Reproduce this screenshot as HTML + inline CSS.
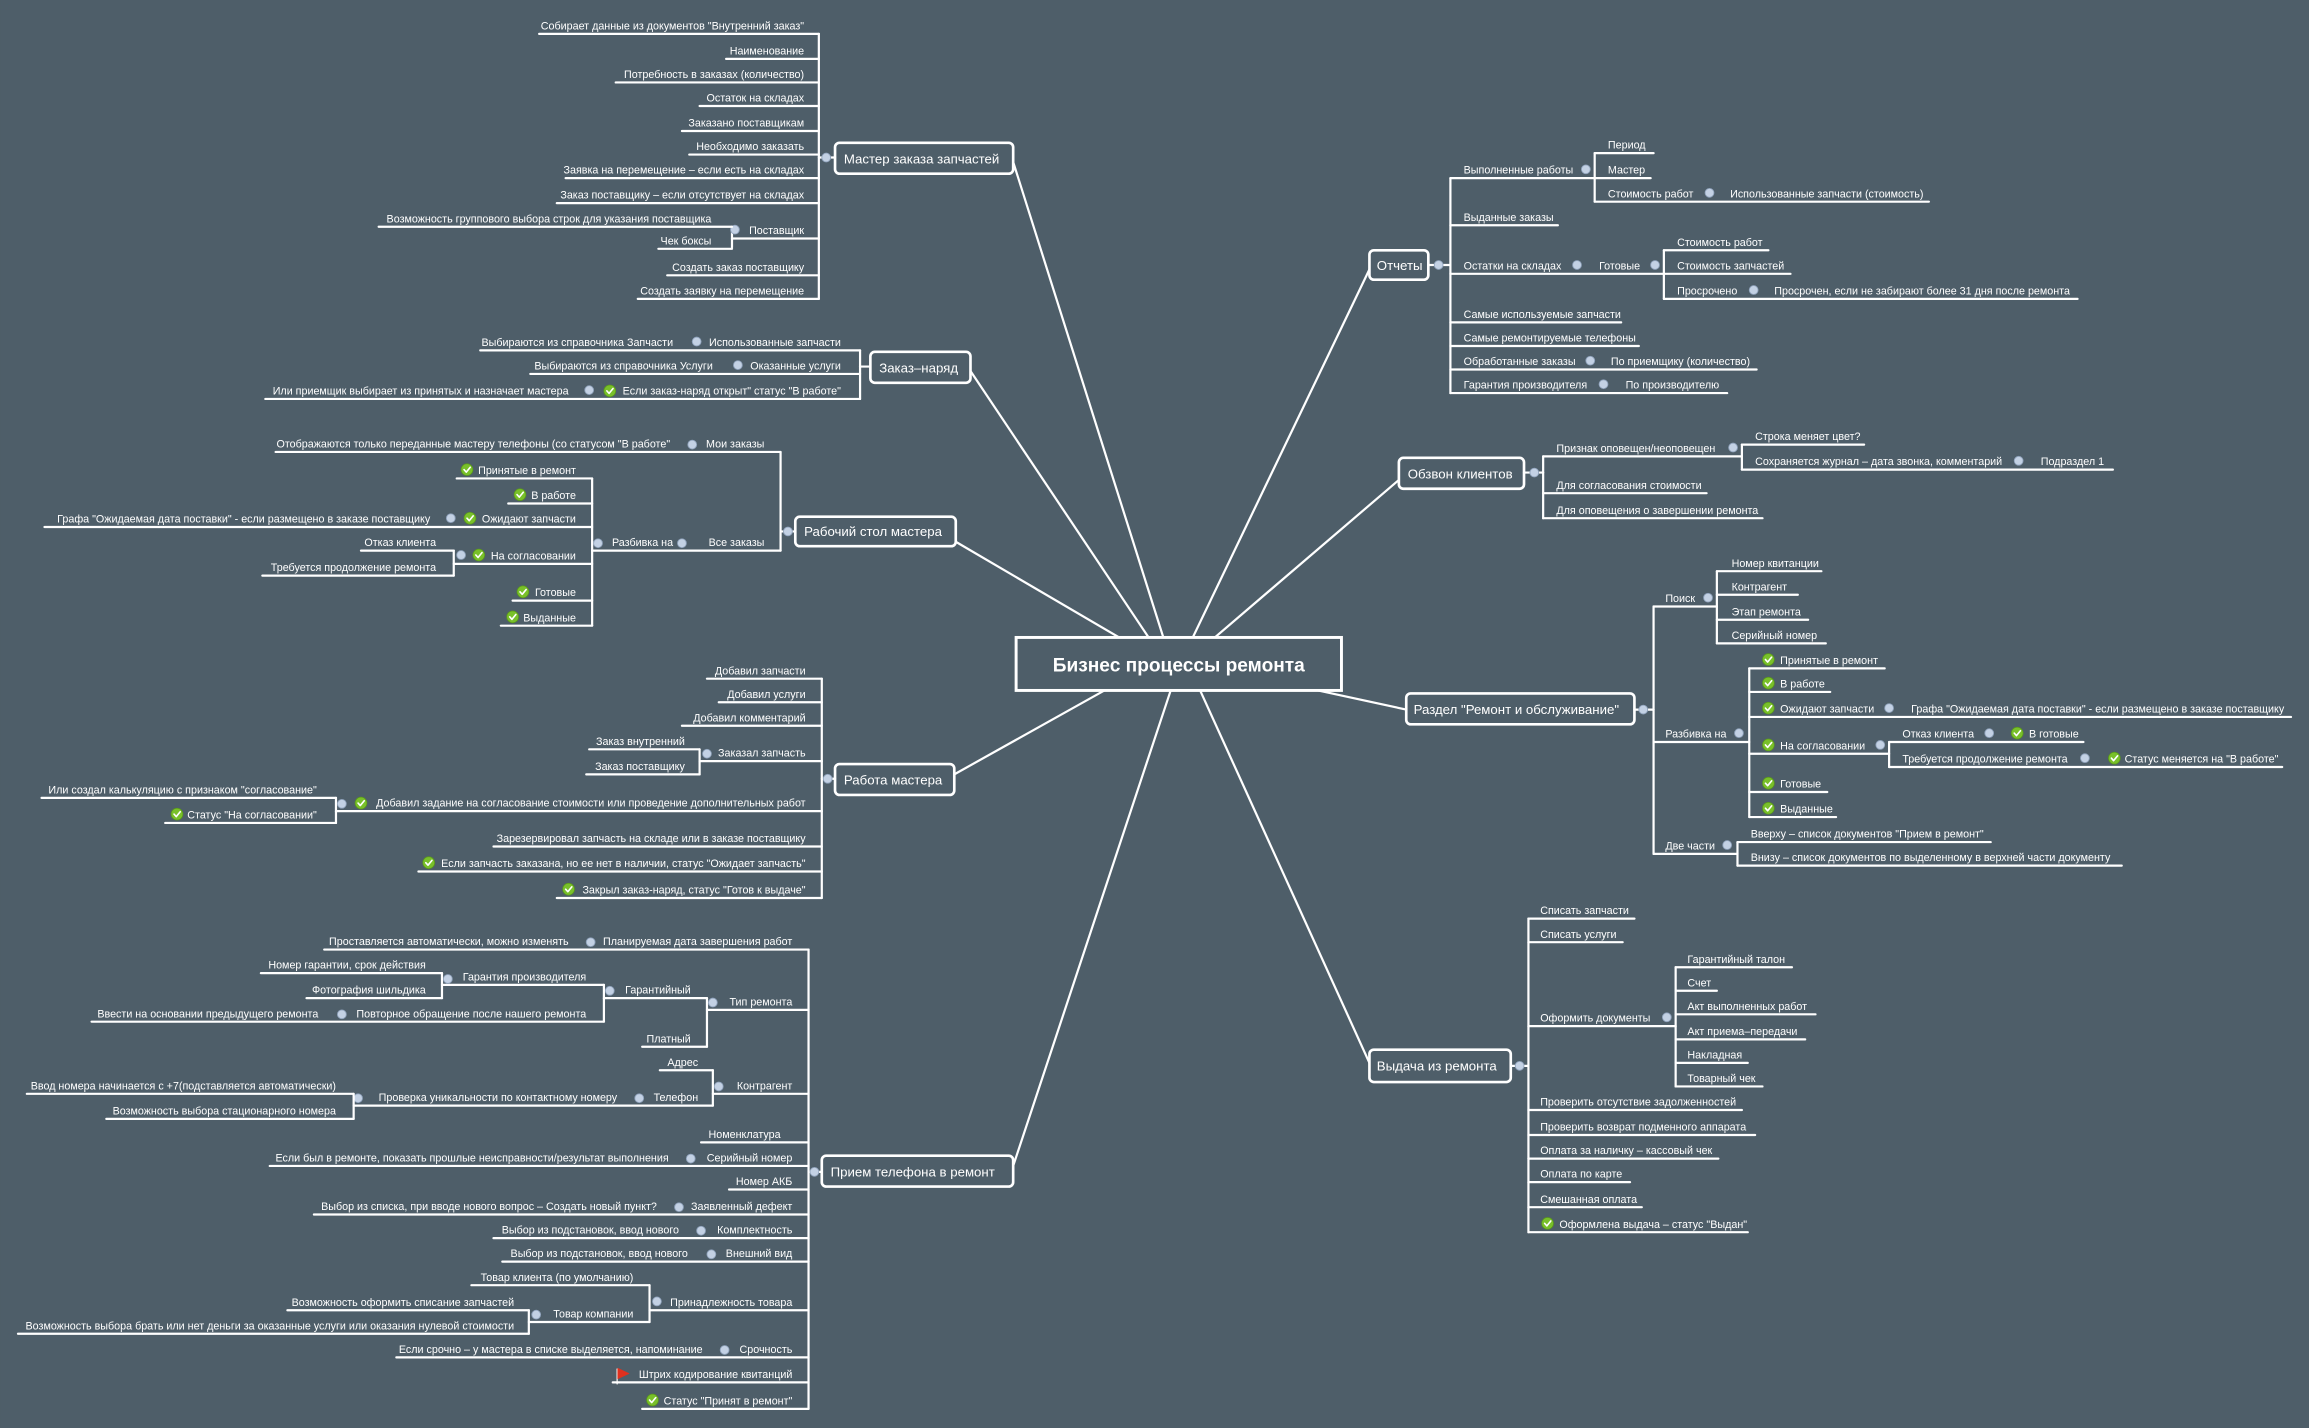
<!DOCTYPE html>
<html><head><meta charset="utf-8"><style>
html,body{margin:0;padding:0;background:#4e5e69;}
svg{display:block}
path{stroke:#fff;stroke-width:1.5;fill:none;stroke-linecap:round;stroke-linejoin:round}
text{fill:#fff;font-family:"Liberation Sans","DejaVu Sans",sans-serif;font-size:7.3px}
text.e{text-anchor:end}
text.n{font-size:9px}
circle.c{fill:#c3d1e4;stroke:#8fa2bb;stroke-width:.6}
rect.nd{fill:#4e5e69;stroke:#fff;stroke-width:1.8}
</style></head><body>
<svg width="2309" height="1428" viewBox="0 0 1568 970" xmlns="http://www.w3.org/2000/svg">
<defs>
<g id="ck"><circle r="4" fill="#79c02a" stroke="#5a9a18" stroke-width=".5"/><path d="M-2 0 L-0.5 1.7 L2.2 -1.6" style="stroke:#fff;stroke-width:1.1"/></g>
</defs>
<rect width="1568" height="970" fill="#4e5e69"/>

<path d="M688 110 L790 433"/>
<path d="M659 252 L780 433"/>
<path d="M649 368 L760 433"/>
<path d="M648 526 L750 469"/>
<path d="M688 792 L795 469"/>
<path d="M930 183 L810 433"/>
<path d="M950 326 L825 433"/>
<path d="M955 482 L895 469"/>
<path d="M930 722 L815 469"/>

<rect x="690" y="433" width="221" height="36" fill="#4e5e69" stroke="#fff" stroke-width="2"/>
<text x="800.5" y="456" style="font-size:13px;font-weight:bold;text-anchor:middle">Бизнес процессы ремонта</text>

<rect class="nd" x="567" y="97" width="121" height="21" rx="3"/>
<text class="n" x="573" y="111">Мастер заказа запчастей</text>
<path d="M556 23 V203"/>
<path d="M556 107 H567"/><circle class="c" cx="561" cy="107" r="3"/>
<text class="e" x="546" y="20">Собирает данные из документов "Внутренний заказ"</text><path d="M366 23 H556"/>
<text class="e" x="546" y="37">Наименование</text><path d="M493 40 H556"/>
<text class="e" x="546" y="53">Потребность в заказах (количество)</text><path d="M418 56 H556"/>
<text class="e" x="546" y="69">Остаток на складах</text><path d="M475 72 H556"/>
<text class="e" x="546" y="86">Заказано поставщикам</text><path d="M463 89 H556"/>
<text class="e" x="546" y="102">Необходимо заказать</text><path d="M468 105 H556"/>
<text class="e" x="546" y="118">Заявка на перемещение – если есть на складах</text><path d="M384 121 H556"/>
<text class="e" x="546" y="135">Заказ поставщику – если отсутствует на складах</text><path d="M378 138 H556"/>
<text class="e" x="546" y="159">Поставщик</text><path d="M497 162 H556"/>
<path d="M497 154 V168"/><circle class="c" cx="499" cy="156" r="3"/>
<text class="e" x="483" y="151">Возможность группового выбора строк для указания поставщика</text><path d="M257 154 H497"/>
<text class="e" x="483" y="166">Чек боксы</text><path d="M447 169 H497"/>
<text class="e" x="546" y="184">Создать заказ поставщику</text><path d="M453 187 H556"/>
<text class="e" x="546" y="200">Создать заявку на перемещение</text><path d="M433 203 H556"/>

<rect class="nd" x="591" y="239" width="68" height="21" rx="3"/>
<text class="n" x="597" y="253">Заказ–наряд</text>
<path d="M584 238 V271"/><path d="M584 249 H591"/>
<text class="e" x="571" y="235">Использованные запчасти</text>
<text class="e" x="457" y="235">Выбираются из справочника Запчасти</text><path d="M326 238 H584"/><circle class="c" cx="473" cy="232" r="3"/>
<text class="e" x="571" y="251">Оказанные услуги</text>
<text class="e" x="484" y="251">Выбираются из справочника Услуги</text><path d="M360 254 H584"/><circle class="c" cx="501" cy="248" r="3"/>
<text class="e" x="571" y="268">Если заказ-наряд открыт" статус "В работе"</text><use href="#ck" x="414" y="265.5"/>
<text class="e" x="386" y="268">Или приемщик выбирает из принятых и назначает мастера</text><path d="M180 271 H584"/><circle class="c" cx="400" cy="265" r="3"/>

<rect class="nd" x="540" y="351" width="109" height="20" rx="3"/>
<text class="n" x="546" y="364">Рабочий стол мастера</text>
<path d="M530 307 V374"/><path d="M530 361 H540"/><circle class="c" cx="535" cy="361" r="3"/>
<text class="e" x="519" y="304">Мои заказы</text>
<text class="e" x="455" y="304">Отображаются только переданные мастеру телефоны (со статусом "В работе"</text><path d="M187 307 H530"/><circle class="c" cx="470" cy="302" r="3"/>
<text class="e" x="519" y="371">Все заказы</text><circle class="c" cx="463" cy="369" r="3"/>
<text class="e" x="457" y="371">Разбивка на</text><path d="M402 374 H530"/><circle class="c" cx="406" cy="369" r="3"/>
<path d="M402 325 V425"/>
<text class="e" x="391" y="322">Принятые в ремонт</text><use href="#ck" x="317" y="319"/><path d="M310 325 H402"/>
<text class="e" x="391" y="339">В работе</text><use href="#ck" x="353" y="336"/><path d="M345 342 H402"/>
<text class="e" x="391" y="355">Ожидают запчасти</text><use href="#ck" x="319" y="352"/>
<text class="e" x="292" y="355">Графа "Ожидаемая дата поставки" - если размещено в заказе поставщику</text><path d="M30 358 H402"/><circle class="c" cx="306" cy="352" r="3"/>
<text class="e" x="391" y="380">На согласовании</text><use href="#ck" x="325" y="377"/><path d="M308 383 H402"/><circle class="c" cx="313" cy="377" r="3"/>
<path d="M308 374 V391"/>
<text class="e" x="296" y="371">Отказ клиента</text><path d="M245 374 H308"/>
<text class="e" x="296" y="388">Требуется продолжение ремонта</text><path d="M178 391 H308"/>
<text class="e" x="391" y="405">Готовые</text><use href="#ck" x="355" y="402"/><path d="M348 408 H402"/>
<text class="e" x="391" y="422">Выданные</text><use href="#ck" x="348" y="419"/><path d="M340 425 H402"/>

<rect class="nd" x="567" y="519" width="81" height="21" rx="3"/>
<text class="n" x="573" y="533">Работа мастера</text>
<path d="M558 461 V610"/><path d="M558 529 H567"/><circle class="c" cx="562" cy="529" r="3"/>
<text class="e" x="547" y="458">Добавил запчасти</text><path d="M480 461 H558"/>
<text class="e" x="547" y="474">Добавил услуги</text><path d="M488 477 H558"/>
<text class="e" x="547" y="490">Добавил комментарий</text><path d="M463 493 H558"/>
<text class="e" x="547" y="514">Заказал запчасть</text><path d="M475 517 H558"/><circle class="c" cx="480" cy="512" r="3"/>
<path d="M475 509 V526"/>
<text class="e" x="465" y="506">Заказ внутренний</text><path d="M400 509 H475"/>
<text class="e" x="465" y="523">Заказ поставщику</text><path d="M398 526 H475"/>
<text class="e" x="547" y="548">Добавил задание на согласование стоимости или проведение дополнительных работ</text><use href="#ck" x="245" y="545.5"/>
<path d="M228 551 H558"/><circle class="c" cx="232" cy="546" r="3"/>
<path d="M228 542 V559"/>
<text class="e" x="215" y="539">Или создал калькуляцию с признаком "согласование"</text><path d="M28 542 H228"/>
<text class="e" x="215" y="556">Статус "На согласовании"</text><use href="#ck" x="120" y="553"/><path d="M112 559 H228"/>
<text class="e" x="547" y="572">Зарезервировал запчасть на складе или в заказе поставщику</text><path d="M335 575 H558"/>
<text class="e" x="547" y="589">Если запчасть заказана, но ее нет в наличии, статус "Ожидает запчасть"</text><use href="#ck" x="291" y="586"/><path d="M284 592 H558"/>
<text class="e" x="547" y="607">Закрыл заказ-наряд, статус "Готов к выдаче"</text><use href="#ck" x="386" y="604"/><path d="M378 610 H558"/>

<rect class="nd" x="558" y="785" width="130" height="21" rx="3"/>
<text class="n" x="564" y="799">Прием телефона в ремонт</text>
<path d="M549 645 V957"/><path d="M549 796 H558"/><circle class="c" cx="553" cy="796" r="3"/>
<text class="e" x="538" y="642">Планируемая дата завершения работ</text>
<text class="e" x="386" y="642">Проставляется автоматически, можно изменять</text><path d="M220 645 H549"/><circle class="c" cx="401" cy="640" r="3"/>
<text class="e" x="538" y="683">Тип ремонта</text><path d="M480 686 H549"/><circle class="c" cx="484" cy="681" r="3"/>
<path d="M480 678 V711"/>
<text class="e" x="469" y="675">Гарантийный</text><path d="M410 678 H480"/><circle class="c" cx="414" cy="673" r="3"/>
<path d="M410 669 V694"/>
<text class="e" x="398" y="666">Гарантия производителя</text><path d="M300 669 H410"/><circle class="c" cx="304" cy="665" r="3"/>
<path d="M300 661 V678"/>
<text class="e" x="289" y="658">Номер гарантии, срок действия</text><path d="M177 661 H300"/>
<text class="e" x="289" y="675">Фотография шильдика</text><path d="M208 678 H300"/>
<text class="e" x="398" y="691">Повторное обращение после нашего ремонта</text>
<text class="e" x="216" y="691">Ввести на основании предыдущего ремонта</text><path d="M62 694 H410"/><circle class="c" cx="232" cy="689" r="3"/>
<text class="e" x="469" y="708">Платный</text><path d="M436 711 H480"/>
<text class="e" x="538" y="740">Контрагент</text><path d="M484 743 H549"/><circle class="c" cx="488" cy="738" r="3"/>
<path d="M484 727 V751"/>
<text class="e" x="474" y="724">Адрес</text><path d="M448 727 H484"/>
<text class="e" x="474" y="748">Телефон</text><circle class="c" cx="434" cy="746" r="3"/>
<text class="e" x="419" y="748">Проверка уникальности по контактному номеру</text><path d="M240 751 H484"/><circle class="c" cx="243" cy="746" r="3"/>
<path d="M240 743 V760"/>
<text class="e" x="228" y="740">Ввод номера начинается с +7(подставляется автоматически)</text><path d="M18 743 H240"/>
<text class="e" x="228" y="757">Возможность выбора стационарного номера</text><path d="M72 760 H240"/>
<text class="e" x="530" y="773">Номенклатура</text><path d="M476 776 H549"/>
<text class="e" x="538" y="789">Серийный номер</text>
<text class="e" x="454" y="789">Если был в ремонте, показать прошлые неисправности/результат выполнения</text><path d="M183 792 H549"/><circle class="c" cx="469" cy="787" r="3"/>
<text class="e" x="538" y="805">Номер АКБ</text><path d="M495 808 H549"/>
<text class="e" x="538" y="822">Заявленный дефект</text>
<text class="e" x="446" y="822">Выбор из списка, при вводе нового вопрос – Создать новый пункт?</text><path d="M213 825 H549"/><circle class="c" cx="461" cy="820" r="3"/>
<text class="e" x="538" y="838">Комплектность</text>
<text class="e" x="461" y="838">Выбор из подстановок, ввод нового</text><path d="M335 841 H549"/><circle class="c" cx="476" cy="836" r="3"/>
<text class="e" x="538" y="854">Внешний вид</text>
<text class="e" x="467" y="854">Выбор из подстановок, ввод нового</text><path d="M341 857 H549"/><circle class="c" cx="483" cy="852" r="3"/>
<text class="e" x="538" y="887">Принадлежность товара</text><path d="M441 890 H549"/><circle class="c" cx="446" cy="884" r="3"/>
<path d="M441 873 V898"/>
<text class="e" x="430" y="870">Товар клиента (по умолчанию)</text><path d="M320 873 H441"/>
<text class="e" x="430" y="895">Товар компании</text><path d="M359 898 H441"/><circle class="c" cx="364" cy="893" r="3"/>
<path d="M359 890 V906"/>
<text class="e" x="349" y="887">Возможность оформить списание запчастей</text><path d="M195 890 H359"/>
<text class="e" x="349" y="903">Возможность выбора брать или нет деньги за оказанные услуги или оказания нулевой стоимости</text><path d="M12 906 H359"/>
<text class="e" x="538" y="919">Срочность</text>
<text class="e" x="477" y="919">Если срочно – у мастера в списке выделяется, напоминание</text><path d="M269 922 H549"/><circle class="c" cx="492" cy="917" r="3"/>
<text class="e" x="538" y="936">Штрих кодирование квитанций</text>
<path d="M419 930 V940" style="stroke:#ddd;stroke-width:1"/><path d="M419.5 929.5 L427 933 L419.5 936.5 Z" style="fill:#e0301e;stroke:#e0301e;stroke-width:.5"/>
<path d="M416 939 H549"/>
<text class="e" x="538" y="954">Статус "Принят в ремонт"</text><use href="#ck" x="443" y="951"/><path d="M436 957 H549"/>

<rect class="nd" x="930" y="170" width="40" height="20" rx="3"/>
<text class="n" x="935" y="183.5">Отчеты</text>
<path d="M985 121 V267"/><path d="M970 180 H985"/><circle class="c" cx="977" cy="180" r="3"/>
<text x="994" y="118">Выполненные работы</text><path d="M985 121 H1083"/><circle class="c" cx="1077" cy="115" r="3"/>
<path d="M1083 104 V137"/>
<text x="1092" y="101">Период</text><path d="M1083 104 H1123"/>
<text x="1092" y="118">Мастер</text><path d="M1083 121 H1121"/>
<text x="1092" y="134">Стоимость работ</text><circle class="c" cx="1161" cy="131" r="3"/>
<text x="1175" y="134">Использованные запчасти (стоимость)</text><path d="M1083 137 H1310"/>
<text x="994" y="150">Выданные заказы</text><path d="M985 153 H1058"/>
<text x="994" y="183">Остатки на складах</text><circle class="c" cx="1071" cy="180" r="3"/>
<text x="1086" y="183">Готовые</text><path d="M985 186 H1130"/><circle class="c" cx="1124" cy="180" r="3"/>
<path d="M1130 170 V203"/>
<text x="1139" y="167">Стоимость работ</text><path d="M1130 170 H1201"/>
<text x="1139" y="183">Стоимость запчастей</text><path d="M1130 186 H1216"/>
<text x="1139" y="200">Просрочено</text><circle class="c" cx="1191" cy="197" r="3"/>
<text x="1205" y="200">Просрочен, если не забирают более 31 дня после ремонта</text><path d="M1130 203 H1411"/>
<text x="994" y="216">Самые используемые запчасти</text><path d="M985 219 H1101"/>
<text x="994" y="232">Самые ремонтируемые телефоны</text><path d="M985 235 H1113"/>
<text x="994" y="248">Обработанные заказы</text><circle class="c" cx="1080" cy="245" r="3"/>
<text x="1094" y="248">По приемщику (количество)</text><path d="M985 251 H1193"/>
<text x="994" y="264">Гарантия производителя</text><circle class="c" cx="1089" cy="261" r="3"/>
<text x="1104" y="264">По производителю</text><path d="M985 267 H1173"/>

<rect class="nd" x="950" y="311" width="85" height="21" rx="3"/>
<text class="n" x="956" y="325">Обзвон клиентов</text>
<path d="M1048 310 V352"/><path d="M1035 321 H1048"/><circle class="c" cx="1042" cy="321" r="3"/>
<text x="1057" y="307">Признак оповещен/неоповещен</text><path d="M1048 310 H1183"/><circle class="c" cx="1177" cy="304" r="3"/>
<path d="M1183 302 V319"/>
<text x="1192" y="299">Строка меняет цвет?</text><path d="M1183 302 H1266"/>
<text x="1192" y="316">Сохраняется журнал – дата звонка, комментарий</text><circle class="c" cx="1371" cy="313" r="3"/>
<text x="1386" y="316">Подраздел 1</text><path d="M1183 319 H1435"/>
<text x="1057" y="332">Для согласования стоимости</text><path d="M1048 335 H1159"/>
<text x="1057" y="349">Для оповещения о завершении ремонта</text><path d="M1048 352 H1197"/>

<rect class="nd" x="955" y="471" width="155" height="21" rx="3"/>
<text class="n" x="960" y="485">Раздел "Ремонт и обслуживание"</text>
<path d="M1123 412 V580"/><path d="M1110 482 H1123"/><circle class="c" cx="1116" cy="482" r="3"/>
<text x="1131" y="409">Поиск</text><path d="M1123 412 H1166"/><circle class="c" cx="1160" cy="406" r="3"/>
<path d="M1166 388 V437"/>
<text x="1176" y="385">Номер квитанции</text><path d="M1166 388 H1237"/>
<text x="1176" y="401">Контрагент</text><path d="M1166 404 H1221"/>
<text x="1176" y="418">Этап ремонта</text><path d="M1166 421 H1228"/>
<text x="1176" y="434">Серийный номер</text><path d="M1166 437 H1240"/>
<text x="1131" y="501">Разбивка на</text><path d="M1123 504 H1188"/><circle class="c" cx="1181" cy="498" r="3"/>
<path d="M1188 454 V555"/>
<use href="#ck" x="1201" y="448"/><text x="1209" y="451">Принятые в ремонт</text><path d="M1188 454 H1280"/>
<use href="#ck" x="1201" y="464"/><text x="1209" y="467">В работе</text><path d="M1188 470 H1243"/>
<use href="#ck" x="1201" y="481"/><text x="1209" y="484">Ожидают запчасти</text><circle class="c" cx="1283" cy="481" r="3"/>
<text x="1298" y="484">Графа "Ожидаемая дата поставки" - если размещено в заказе поставщику</text><path d="M1188 487 H1556"/>
<use href="#ck" x="1201" y="506"/><text x="1209" y="509">На согласовании</text><path d="M1188 512 H1283"/><circle class="c" cx="1277" cy="506" r="3"/>
<path d="M1283 504 V521"/>
<text x="1292" y="501">Отказ клиента</text><circle class="c" cx="1351" cy="498" r="3"/>
<use href="#ck" x="1370" y="498"/><text x="1378" y="501">В готовые</text><path d="M1283 504 H1415"/>
<text x="1292" y="518">Требуется продолжение ремонта</text><circle class="c" cx="1416" cy="515" r="3"/>
<use href="#ck" x="1436" y="515"/><text x="1443" y="518">Статус меняется на "В работе"</text><path d="M1283 521 H1550"/>
<use href="#ck" x="1201" y="532"/><text x="1209" y="535">Готовые</text><path d="M1188 538 H1241"/>
<use href="#ck" x="1201" y="549"/><text x="1209" y="552">Выданные</text><path d="M1188 555 H1247"/>
<text x="1131" y="577">Две части</text><path d="M1123 580 H1180"/><circle class="c" cx="1173" cy="574" r="3"/>
<path d="M1180 572 V588"/>
<text x="1189" y="569">Вверху – список документов "Прием в ремонт"</text><path d="M1180 572 H1352"/>
<text x="1189" y="585">Внизу – список документов по выделенному в верхней части документу</text><path d="M1180 588 H1441"/>

<rect class="nd" x="930" y="713" width="96" height="22" rx="3"/>
<text class="n" x="935" y="727">Выдача из ремонта</text>
<path d="M1038 624 V837"/><path d="M1026 724 H1038"/><circle class="c" cx="1032" cy="724" r="3"/>
<text x="1046" y="621">Списать запчасти</text><path d="M1038 624 H1110"/>
<text x="1046" y="637">Списать услуги</text><path d="M1038 640 H1102"/>
<text x="1046" y="694">Оформить документы</text><path d="M1038 697 H1138"/><circle class="c" cx="1132" cy="691" r="3"/>
<path d="M1138 657 V738"/>
<text x="1146" y="654">Гарантийный талон</text><path d="M1138 657 H1217"/>
<text x="1146" y="670">Счет</text><path d="M1138 673 H1166"/>
<text x="1146" y="686">Акт выполненных работ</text><path d="M1138 689 H1233"/>
<text x="1146" y="703">Акт приема–передачи</text><path d="M1138 706 H1226"/>
<text x="1146" y="719">Накладная</text><path d="M1138 722 H1187"/>
<text x="1146" y="735">Товарный чек</text><path d="M1138 738 H1197"/>
<text x="1046" y="751">Проверить отсутствие задолженностей</text><path d="M1038 754 H1183"/>
<text x="1046" y="768">Проверить возврат подменного аппарата</text><path d="M1038 771 H1192"/>
<text x="1046" y="784">Оплата за наличку – кассовый чек</text><path d="M1038 787 H1167"/>
<text x="1046" y="800">Оплата по карте</text><path d="M1038 803 H1107"/>
<text x="1046" y="817">Смешанная оплата</text><path d="M1038 820 H1115"/>
<use href="#ck" x="1051" y="831"/><text x="1059" y="834">Оформлена выдача – статус "Выдан"</text><path d="M1038 837 H1187"/>
</svg>
</body></html>
